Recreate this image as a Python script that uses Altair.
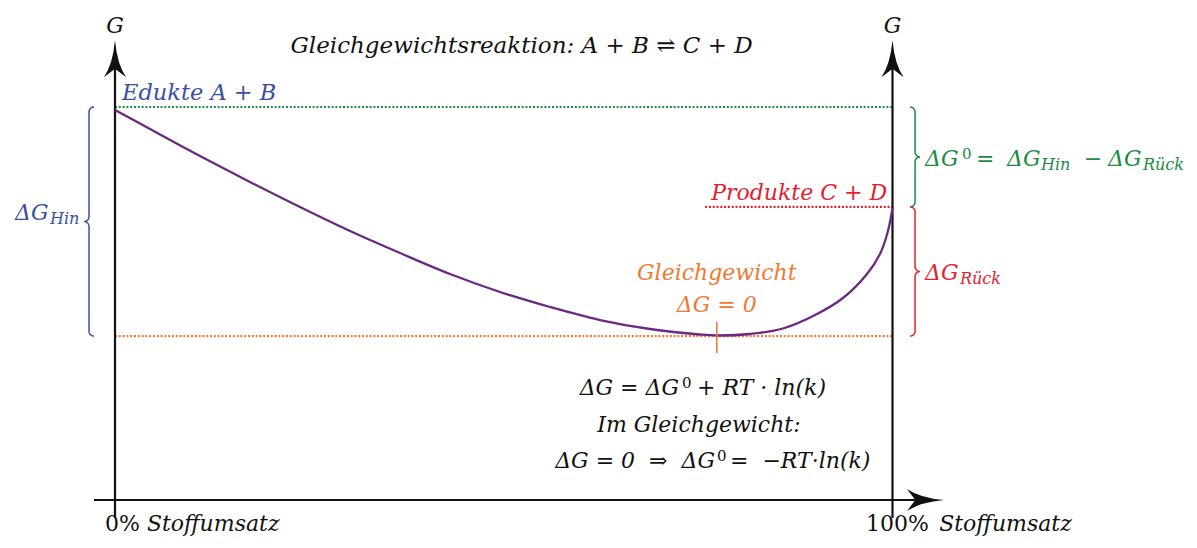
import math
import altair as alt
import pandas as pd

# ---------------- data ----------------
stoffumsatz = [0, 4.50, 10.93, 17.36, 23.79, 30.23, 36.66, 43.09, 49.52, 55.95, 62.38,
               68.81, 75.24, 77.43, 81.67, 85.92, 90.29, 93.63, 96.72, 98.39, 99.42, 100]
G_values = [99.24, 94.40, 87.53, 80.92, 74.55, 68.45, 62.85, 57.51, 52.93, 49.11, 45.80,
            43.51, 42.11, 41.86, 42.24, 43.64, 47.33, 51.40, 57.51, 62.60, 68.45, 74.30]

G_edukte = 100.0
G_produkte = 74.6
G_gleich = 41.7
x_gleich = 77.4

# ---------------- layout / scales ----------------
W, H = 1180, 530
PX_X = 7.775   # px per % Stoffumsatz
PX_Y = 3.93    # px per G unit
XD0 = -107 / PX_X
XD1 = XD0 + W / PX_X
YD1 = 492 / PX_Y
YD0 = YD1 - H / PX_Y

FONT = "DejaVu Serif"
BLACK = "#111111"
BLUE = "#3b4fa0"
GREEN = "#1d8a45"
RED = "#e5202e"
ORANGE = "#f07a32"
PURPLE = "#6a2a80"

X = alt.X("x:Q", scale=alt.Scale(domain=[XD0, XD1], nice=False, zero=False), axis=None)
Y = alt.Y("G:Q", scale=alt.Scale(domain=[YD0, YD1], nice=False, zero=False), axis=None)

layers = []


def hline(x1, x2, g, color, width=2.2, dash=(2, 1.8)):
    df = pd.DataFrame({"x": [x1], "x2": [x2], "G": [g]})
    kw = dict(color=color, strokeWidth=width)
    if dash:
        kw["strokeDash"] = list(dash)
    return alt.Chart(df).mark_rule(**kw).encode(x=X, x2="x2:Q", y=Y)


def vrule(x, g1, g2, color=BLACK, width=2.2):
    df = pd.DataFrame({"x": [x], "G": [g1], "G2": [g2]})
    return alt.Chart(df).mark_rule(color=color, strokeWidth=width).encode(x=X, y=Y, y2="G2:Q")


# dotted level lines
layers.append(hline(0, 100, G_edukte, GREEN))
layers.append(hline(0, 100, G_gleich, ORANGE))
layers.append(hline(75.9, 100, G_produkte, RED))

# axes
ARROW_G = 112.3
ARROW_X = 104.24
layers.append(vrule(0, -4.6, ARROW_G))
layers.append(vrule(100, -4.6, ARROW_G))
layers.append(hline(-2.7, ARROW_X, 0, BLACK, 2.2, None))

arrow_shape = "M0,-1 Q0.12,0.3 0.6,1 L0,0.55 L-0.6,1 Q-0.12,0.3 0,-1 Z"
arrows_v = pd.DataFrame({"x": [0, 100], "G": [ARROW_G, ARROW_G]})
layers.append(alt.Chart(arrows_v).mark_point(shape=arrow_shape, size=1369, filled=True,
                                             color=BLACK, opacity=1).encode(x=X, y=Y))
arrow_h = pd.DataFrame({"x": [ARROW_X], "G": [0]})
layers.append(alt.Chart(arrow_h).mark_point(shape=arrow_shape, size=1369, filled=True,
                                            color=BLACK, opacity=1, angle=90).encode(x=X, y=Y))

# curve
curve = pd.DataFrame({"x": stoffumsatz, "G": G_values, "i": range(len(stoffumsatz))})
layers.append(alt.Chart(curve).mark_line(color=PURPLE, strokeWidth=2.3, interpolate="catmull-rom").encode(
    x=X, y=Y, order="i:Q"))

# equilibrium tick
layers.append(vrule(x_gleich, 37.4, 45.3, ORANGE, 1.6))


# braces
def brace(xs, g_top, g_bot, d, color, r_px=5, n=10):
    rx = r_px / PX_X
    ry = r_px / PX_Y
    gm = (g_top + g_bot) / 2
    pts = []
    for k in range(n + 1):
        t = k / n * math.pi / 2
        pts.append((xs - d * rx + d * rx * math.sin(t), g_top - ry + ry * math.cos(t)))
    for k in range(n + 1):
        t = k / n * math.pi / 2
        pts.append((xs + d * rx - d * rx * math.cos(t), gm + ry - ry * math.sin(t)))
    for k in range(n + 1):
        t = k / n * math.pi / 2
        pts.append((xs + d * rx - d * rx * math.sin(t), gm - ry + ry * math.cos(t)))
    for k in range(n + 1):
        t = k / n * math.pi / 2
        pts.append((xs - d * rx + d * rx * math.cos(t), g_bot + ry - ry * math.sin(t)))
    df = pd.DataFrame({"x": [p[0] for p in pts], "G": [p[1] for p in pts], "i": range(len(pts))})
    return alt.Chart(df).mark_line(color=color, strokeWidth=1.5).encode(x=X, y=Y, order="i:Q")


layers.append(brace(-3.34, G_edukte, G_gleich, -1, BLUE))
layers.append(brace(102.9, G_edukte, G_produkte, 1, GREEN))
layers.append(brace(102.9, G_produkte, G_gleich, 1, RED))


# text
def label(text, x, g, color=BLACK, size=22, align="left", style="italic"):
    df = pd.DataFrame({"x": [x], "G": [g], "t": [text]})
    return alt.Chart(df).mark_text(align=align, baseline="alphabetic", font=FONT, fontSize=size,
                                   fontStyle=style, color=color).encode(x=X, y=Y, text="t:N")


SUB = 16
SUP = 15
FS = "\u2007"  # figure space (wider gap, not collapsed)
layers += [
    label("G", 0, 118.8, align="center"),
    label("G", 100, 118.8, align="center"),
    label("Gleichgewichtsreaktion: A + B ⇌ C + D", 52.3, 113.7, size=23, align="center"),
    label("Edukte A + B", 0.9, 101.8, BLUE, size=22.5),
    # ΔG_Hin (left)
    label("ΔG", -12.86, 71.2, BLUE),
    label("Hin", -8.36, 70.2, BLUE, SUB),
    # ΔG^0 = ΔG_Hin − ΔG_Rück
    label("ΔG", 104.18, 85.0, GREEN),
    label("0", 108.94, 86.8, GREEN, SUP, style="normal"),
    label("=", 110.74, 85.0, GREEN, style="normal"),
    label("ΔG", 114.73, 85.0, GREEN),
    label("Hin", 119.10, 84.0, GREEN, SUB),
    label("−", 124.6, 85.0, GREEN, style="normal"),
    label("ΔG", 127.72, 85.0, GREEN),
    label("Rück", 132.22, 84.0, GREEN, SUB),
    # ΔG_Rück
    label("ΔG", 104.18, 56.0, RED),
    label("Rück", 108.68, 55.0, RED, SUB),
    label("Produkte C + D", 99.3, 76.3, RED, align="right"),
    label("Gleichgewicht", x_gleich, 56.0, ORANGE, align="center"),
    label("ΔG = 0", x_gleich, 47.8, ORANGE, align="center"),
    # ΔG = ΔG^0 + RT · ln(k)
    label("ΔG = ΔG", 72.54, 26.72, align="right"),
    label("0", 72.93, 28.5, size=SUP, style="normal"),
    label("+ RT · ln(k)", 74.86, 26.72),
    label("Im Gleichgewicht:", 75.1, 17.3, align="center"),
    # ΔG = 0 ⇒ ΔG^0 = −RT·ln(k)
    label("ΔG = 0" + FS + "⇒" + FS + "ΔG", 77.17, 8.14, align="right"),
    label("0", 77.43, 9.92, size=SUP, style="normal"),
    label("=" + FS + "−RT·ln(k)", 79.1, 8.14),
    # x labels
    label("0%", -1.3, -7.9, style="normal"),
    label("Stoffumsatz", 4.1, -7.9),
    label("100%", 96.6, -7.9, style="normal"),
    label("Stoffumsatz", 106.0, -7.9),
]

chart = alt.layer(*layers).properties(
    width=W, height=H, padding=0,
    autosize=alt.AutoSizeParams(type="none"),
).configure_view(stroke=None)

chart.save("out.html", embed_options={"renderer": "svg", "actions": False})
